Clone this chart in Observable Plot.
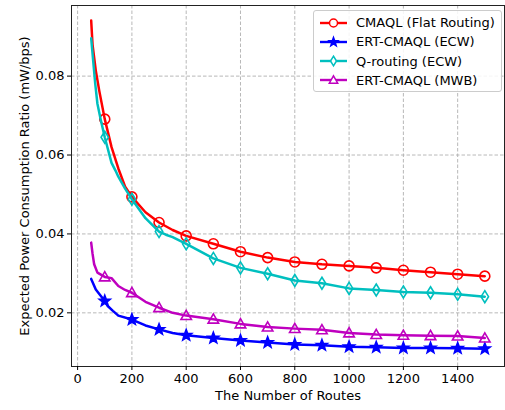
<!DOCTYPE html>
<html>
<head>
<meta charset="utf-8">
<script src="https://cdn.jsdelivr.net/npm/d3@7"></script>
<script src="https://cdn.jsdelivr.net/npm/@observablehq/plot@0.6"></script>
<style>
  html, body { margin: 0; padding: 0; background: #fff; }
  #wrap { position: relative; width: 505px; height: 410px; font-family: "DejaVu Sans", sans-serif; }
  #legend { position: absolute; left: 313px; top: 10px; width: 187px; height: 80px;
    border: 1px solid #cccccc; border-radius: 3px; background: rgba(255,255,255,0.85);
    font-size: 13px; color: #000; box-sizing: content-box; }
  .entry { position: absolute; left: 5px; height: 18px; display: flex; align-items: center; white-space: nowrap; }
  .entry svg { margin-right: 8px; }
</style>
</head>
<body>
<div id="wrap"><div id="legend"></div></div>
<script>
// ---- data ----
const seriesNames = ["CMAQL (Flat Routing)", "ERT-CMAQL (ECW)", "Q-routing (ECW)", "ERT-CMAQL (MWB)"];
const seriesColors = ["#ff0000", "#0000ff", "#00bfbf", "#bf00bf"];

const cmaqlX = [50,55,67,80,100,125,150,175,200,250,300,350,400,500,600,700,800,900,1000,1100,1200,1300,1400,1500];
const cmaqlY = [0.0941,0.0880,0.0814,0.0762,0.0691,0.0620,0.0566,0.0520,0.0494,0.0455,0.0429,0.0410,0.0395,0.0375,0.0355,0.0340,0.0329,0.0323,0.0319,0.0314,0.0308,0.0303,0.0298,0.0293];

const ecwX = [50,67,100,110,130,150,200,250,300,350,400,500,600,700,800,900,1000,1100,1200,1300,1400,1500];
const ecwY = [0.0286,0.0259,0.0230,0.0218,0.0205,0.0193,0.0183,0.0168,0.0158,0.0149,0.0143,0.0136,0.0130,0.0125,0.0120,0.0118,0.0114,0.0113,0.0111,0.0111,0.0110,0.0109];

const qX = [50,55,65,73,85,100,125,140,150,175,200,250,300,325,350,400,500,600,700,800,900,1000,1100,1200,1300,1400,1500];
const qY = [0.0896,0.0857,0.0780,0.0730,0.0690,0.0645,0.0580,0.0560,0.0545,0.0515,0.0488,0.0440,0.0406,0.0398,0.0392,0.0375,0.0338,0.0314,0.0299,0.0282,0.0275,0.0262,0.0258,0.0253,0.0251,0.0247,0.0241];

const mwbX = [50,55,61,73,100,125,150,175,200,250,300,350,400,500,600,700,800,900,1000,1100,1200,1300,1400,1500];
const mwbY = [0.0378,0.0350,0.0323,0.0302,0.0291,0.0288,0.0268,0.0258,0.0251,0.0228,0.0213,0.0200,0.0193,0.0184,0.0172,0.0164,0.0160,0.0157,0.0149,0.0145,0.0143,0.0142,0.0141,0.0136];

const xTicks = [0,200,400,600,800,1000,1200,1400];
const yTicks = [0.02,0.04,0.06,0.08];
const xLabel = "The Number of Routes";
const yLabel = "Expected Power Consumption Ratio (mW/bps)";

// ---- symbols (matplotlib-like); sqrt(size) = nominal marker width ----
const thinDiamond = { draw(ctx, size) { const h = Math.sqrt(size) * 0.5, w = h * 0.62;
  ctx.moveTo(0, -h); ctx.lineTo(w, 0); ctx.lineTo(0, h); ctx.lineTo(-w, 0); ctx.closePath(); } };
const triUp = { draw(ctx, size) { const r = Math.sqrt(size) * 0.5;
  ctx.moveTo(0, -r); ctx.lineTo(r, r * 0.75); ctx.lineTo(-r, r * 0.75); ctx.closePath(); } };
const star5 = { draw(ctx, size) { const R = Math.sqrt(size) * 0.5, r = R * 0.42;
  for (let i = 0; i < 10; i++) { const a = -Math.PI/2 + i * Math.PI/5, rr = i % 2 ? r : R;
    const px = rr * Math.cos(a), py = rr * Math.sin(a); i ? ctx.lineTo(px, py) : ctx.moveTo(px, py); }
  ctx.closePath(); } };
const circ = { draw(ctx, size) { const r = Math.sqrt(size) * 0.5; ctx.moveTo(r, 0); ctx.arc(0, 0, r, 0, 2*Math.PI); } };

const seriesX = [cmaqlX, ecwX, qX, mwbX];
const seriesY = [cmaqlY, ecwY, qY, mwbY];
const seriesSym = [circ, star5, thinDiamond, triUp];
const seriesSize = [10, 11.5, 12, 10.5];   // nominal marker width, px
const seriesFill = [false, true, false, false];

const rows = [];
seriesNames.forEach((name, i) => seriesX[i].forEach((x, j) => rows.push({series: name, idx: i, x, y: seriesY[i][j]})));

const marks = [
  Plot.gridX(xTicks, {stroke: "#b0b0b0", strokeOpacity: 1, strokeWidth: 0.9, strokeDasharray: "3.5,2"}),
  Plot.gridY(yTicks, {stroke: "#b0b0b0", strokeOpacity: 1, strokeWidth: 0.9, strokeDasharray: "3.5,2"}),
];
seriesNames.forEach((name, i) => {
  const data = rows.filter(d => d.idx === i);
  marks.push(Plot.line(data, {x: "x", y: "y", stroke: seriesColors[i], strokeWidth: 2.5, curve: "linear"}));
  marks.push(Plot.dot(data.filter(d => d.x % 100 === 0), {
    x: "x", y: "y", symbol: seriesSym[i], r: seriesSize[i] / Math.sqrt(Math.PI),
    stroke: seriesColors[i], strokeWidth: 1.6,
    fill: seriesFill[i] ? seriesColors[i] : "none"
  }));
});
marks.push(Plot.frame({stroke: "#222", strokeWidth: 1}));
marks.push(Plot.axisX(xTicks, {tickSize: 4, tickPadding: 3, fontSize: 13, tickFormat: d3.format("d"), label: xLabel, labelAnchor: "center", labelArrow: "none", labelOffset: 33}));
marks.push(Plot.axisY(yTicks, {tickSize: 4, tickPadding: 3, fontSize: 13, tickFormat: d3.format(".2f"), label: yLabel, labelAnchor: "center", labelArrow: "none", labelOffset: 52}));

const chart = Plot.plot({
  width: 505, height: 410,
  marginLeft: 71, marginRight: 1, marginTop: 5, marginBottom: 44,
  style: {fontFamily: "DejaVu Sans, sans-serif", fontSize: "13px", color: "#000", background: "#fff"},
  x: {domain: [-22.5, 1572.5]},
  y: {domain: [0.0064, 0.0979]},
  marks
});
document.getElementById("wrap").prepend(chart);

// ---- legend ----
const legend = document.getElementById("legend");
seriesNames.forEach((name, i) => {
  const e = document.createElement("div");
  e.className = "entry";
  e.style.top = (2.5 + i * 19.3) + "px";
  const s = d3.create("svg").attr("width", 29).attr("height", 16);
  s.append("line").attr("x1", 1).attr("x2", 28).attr("y1", 8).attr("y2", 8).attr("stroke", seriesColors[i]).attr("stroke-width", 2.4);
  s.append("path").attr("transform", "translate(14.5,8)")
    .attr("d", d3.symbol(seriesSym[i], Math.pow(seriesSize[i] * 0.8, 2))())
    .attr("stroke", seriesColors[i]).attr("stroke-width", 1.5)
    .attr("fill", seriesFill[i] ? seriesColors[i] : "#fff");
  e.appendChild(s.node());
  const t = document.createElement("span"); t.textContent = name;
  e.appendChild(t);
  legend.appendChild(e);
});
</script>
</body>
</html>
